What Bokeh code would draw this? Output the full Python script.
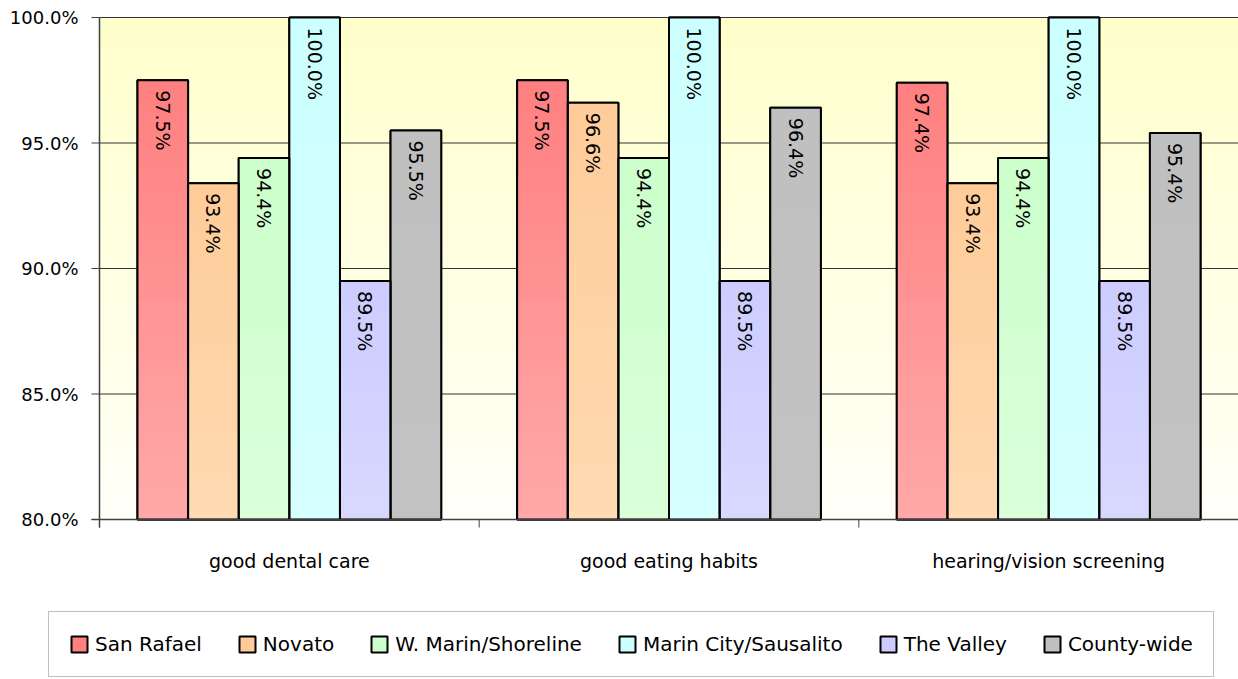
import numpy as np
from bokeh.plotting import figure
from bokeh.models import Range1d, Legend, LegendItem, ColumnDataSource
from bokeh.core.properties import value
from bokeh.embed import file_html
from bokeh.resources import INLINE

# ---------------- data ----------------
categories = ["good dental care", "good eating habits", "hearing/vision screening"]
regions = ["San Rafael", "Novato", "W. Marin/Shoreline",
           "Marin City/Sausalito", "The Valley", "County-wide"]
san_rafael = [97.5, 97.5, 97.4]
novato = [93.4, 96.6, 93.4]
w_marin = [94.4, 94.4, 94.4]
marin_city = [100.0, 100.0, 100.0]
the_valley = [89.5, 89.5, 89.5]
county_wide = [95.5, 96.4, 95.4]
y_ticks = [80, 85, 90, 95, 100]

series = [san_rafael, novato, w_marin, marin_city, the_valley, county_wide]
top_colors = ["#FF8080", "#FFCC99", "#CCFFCC", "#CCFFFF", "#CCCCFF", "#C0C0C0"]
bottom_colors = ["#FFA8A8", "#FFDAB2", "#DAFFDA", "#D6FFFF", "#D8D8FF", "#C2C2C2"]

FONT = "DejaVu Sans"
AXIS_COLOR = "#404040"

# ---------------- layout (pixels) ----------------
W, H = 1238, 679
PLOT_L, PLOT_T, PLOT_B = 99, 17, 519
TICK = 8

Y0, Y1 = y_ticks[0], y_ticks[-1]
NG = len(categories)
px_x = (W - PLOT_L) / NG              # pixels per x unit
px_y = (PLOT_B - PLOT_T) / (Y1 - Y0)  # pixels per y unit
dx, dy = TICK / px_x, TICK / px_y


def hex2rgb(h):
    h = h.lstrip("#")
    return np.array([int(h[i:i + 2], 16) for i in (0, 2, 4)], dtype=float)


def mix(c1, c2, t):
    a, b = hex2rgb(c1), hex2rgb(c2)
    c = np.round(a + (b - a) * t).astype(int)
    return "#%02x%02x%02x" % tuple(c)


p = figure(width=W, height=H, output_backend="svg", toolbar_location=None,
           x_range=Range1d(-PLOT_L / px_x, NG),
           y_range=Range1d(Y0 - (H - PLOT_B) / px_y, Y1 + PLOT_T / px_y),
           min_border=0, x_axis_type=None, y_axis_type=None)
p.outline_line_color = None
p.background_fill_color = "white"
p.border_fill_color = "white"

# plot-area background gradient (yellow at top -> near white at bottom)
NB = 80
bg_tops = [Y1 - k * (Y1 - Y0) / NB for k in range(NB)]
bg_cols = [mix("#FFFFCC", "#FFFFF8", k / (NB - 1)) for k in range(NB)]
p.quad(left=0, right=NG, bottom=Y0, top=bg_tops, fill_color=bg_cols, line_color=None)

# gridlines
p.segment(x0=0, x1=NG, y0=y_ticks[1:], y1=y_ticks[1:], line_color="#333333",
          line_width=1)

# bar geometry
nser = len(series)
group_pad = 0.1
bw = (1 - 2 * group_pad) / nser


def bar_x(i):
    return [g + group_pad + (i + 0.5) * bw for g in range(NG)]


# solid bars (also the legend's glyph source), later covered by the gradient
proxies = []
for i, vals in enumerate(series):
    r = p.vbar(x=bar_x(i), top=vals, bottom=Y0, width=bw, fill_color=top_colors[i],
               line_color="black", line_width=2)
    proxies.append(r)

# gradient fill
slice_x, slice_top, slice_col = [], [], []
NS = 40
for i, vals in enumerate(series):
    for x, v in zip(bar_x(i), vals):
        for k in range(NS):
            slice_x.append(x)
            slice_top.append(v - k * (v - Y0) / NS)
            slice_col.append(mix(top_colors[i], bottom_colors[i], k / (NS - 1)))

order = np.argsort(-np.array(slice_top), kind="stable")
src = ColumnDataSource(dict(x=[slice_x[j] for j in order],
                            top=[slice_top[j] for j in order],
                            color=[slice_col[j] for j in order]))
p.vbar(x="x", top="top", bottom=Y0, width=bw, fill_color="color",
       line_color=None, source=src)

# bar outlines + value labels
for i, vals in enumerate(series):
    p.vbar(x=bar_x(i), top=vals, bottom=Y0, width=bw, fill_color=None,
           line_color="black", line_width=2)
    p.text(x=bar_x(i), y=vals, text=["%.1f%%" % v for v in vals], angle=-np.pi / 2,
           text_align="left", text_baseline="middle", y_offset=10,
           text_font=value(FONT), text_font_size="19px", text_color="black")

# ---- axes (drawn through the plot scales) ----
p.segment(x0=[0], x1=[0], y0=[Y0 - dy], y1=[Y1], line_color=AXIS_COLOR, line_width=1.5)
p.segment(x0=[-dx], x1=[NG], y0=[Y0], y1=[Y0], line_color=AXIS_COLOR, line_width=1.5)
p.segment(x0=-dx, x1=0, y0=y_ticks, y1=y_ticks, line_color=AXIS_COLOR, line_width=1)
bounds = list(range(NG + 1))
p.segment(x0=bounds, x1=bounds, y0=Y0, y1=Y0 - dy, line_color=AXIS_COLOR, line_width=1)
p.text(x=-dx, y=y_ticks, text=["%.1f%%" % t for t in y_ticks], text_align="right",
       text_baseline="middle", x_offset=-13, text_font=value(FONT),
       text_font_size="18px", text_color="black")
centres = [g + 0.5 for g in range(NG)]
p.text(x=centres, y=Y0, text=categories, text_align="center", text_baseline="middle",
       y_offset=41, text_font=value(FONT), text_font_size="19px", text_color="black")

# ---------------- legend ----------------
legend = Legend(items=[LegendItem(label=regions[i], renderers=[proxies[i]])
                       for i in range(nser)],
                orientation="horizontal", location=(48, 2), padding=20,
                spacing=35, label_standoff=6, glyph_width=20, glyph_height=20,
                label_text_font=FONT, label_text_font_size="20px",
                label_text_color="black",
                border_line_color="#808080", border_line_width=1,
                background_fill_color="white", background_fill_alpha=1, margin=0)
p.add_layout(legend, "center")

open("out.html", "w").write(file_html(p, INLINE))
